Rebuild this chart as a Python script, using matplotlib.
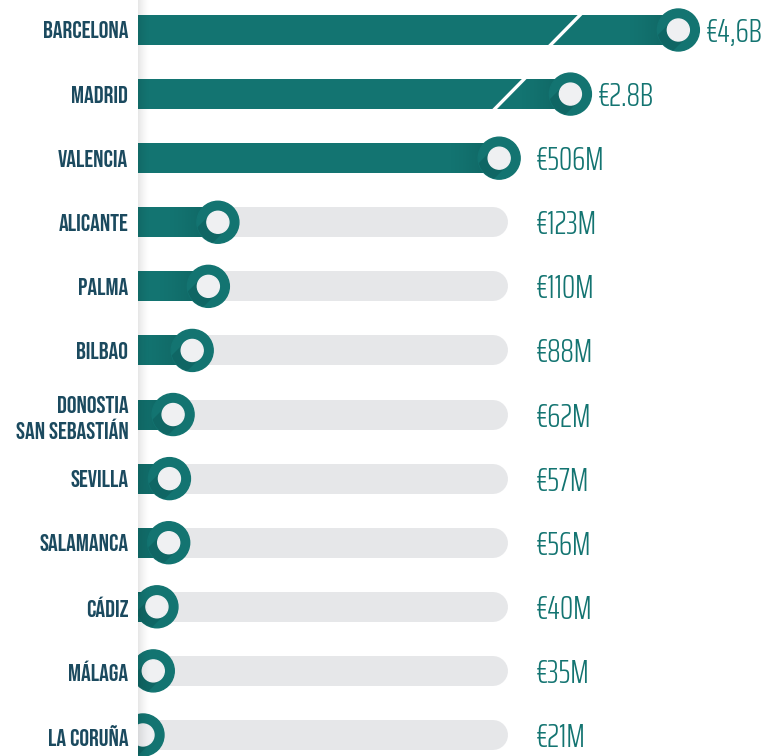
import numpy as np
import matplotlib.pyplot as plt
from matplotlib.patches import Circle, Polygon
from matplotlib.transforms import ScaledTranslation
from matplotlib.colors import to_rgb

# DATA
cities = ["BARCELONA", "MADRID", "VALENCIA", "ALICANTE", "PALMA", "BILBAO",
          "DONOSTIA\nSAN SEBASTIÁN", "SEVILLA", "SALAMANCA", "CÁDIZ", "MÁLAGA", "LA CORUÑA"]
values = [4600, 2800, 506, 123, 110, 88, 62, 57, 56, 40, 35, 21]  # millions of euros
value_labels = ["€4,6B", "€2.8B", "€506M", "€123M", "€110M", "€88M",
                "€62M", "€57M", "€56M", "€40M", "€35M", "€21M"]

# broken axis: everything above 506M is squeezed
BREAK_IN = [0, 506, 2800, 4600]
BREAK_OUT = [0, 506, 603, 750]
TRACK_END = 518
X_MIN, X_MAX = 14.2, 868
PX = 0.734  # pixels per axis unit

TEAL = "#137471"
DARK_TEAL = "#0a4e4c"
TRACK = "#e6e7e9"
INNER = "#eff0f2"
NAVY = "#1b4a5f"

LABEL_FONT = ["Bebas Neue", "DejaVu Sans"]
VALUE_FONT = ["Saira ExtraCondensed", "DejaVu Sans"]


def axis_pos(v):
    return float(np.interp(v, BREAK_IN, BREAK_OUT))


fig = plt.figure(figsize=(7.65, 7.56), dpi=100)
ax = fig.add_axes([138 / 765, 0, 1 - 138 / 765, 1])

rows = np.arange(len(cities))
pos = [axis_pos(v) for v in values]
bar_h = 30 / 64.09

# grey tracks with round right end
for i in rows:
    ax.plot([0, TRACK_END - 15 / PX], [i, i], color=TRACK, lw=21.6,
            solid_capstyle="round", zorder=1)

# teal bars
ax.barh(rows, pos, left=0, height=bar_h, color=TEAL, zorder=2)

# darker gradient near the knob
dark = to_rgb(DARK_TEAL)
grad = np.zeros((1, 64, 4))
grad[..., :3] = dark
grad[..., 3] = np.linspace(0, 0.55, 64) ** 1.3
for i, p in zip(rows, pos):
    ax.imshow(grad, extent=[p - 50 / PX, p, i + bar_h / 2, i - bar_h / 2],
              aspect="auto", interpolation="bilinear", zorder=3)

# break marks on the squeezed bars
slash_gap_px = {0: 113, 1: 61}
for i, gap in slash_gap_px.items():
    c = pos[i] - gap / PX
    ax.plot([c - 17 / PX, c + 17 / PX], [i + 0.27, i - 0.27], color="white",
            lw=2.4, zorder=4, solid_capstyle="butt")

# knobs
r_out, r_in = 0.21, 0.11
d = np.array([-1, -1]) / np.sqrt(2)
perp = np.array([-1, 1]) / np.sqrt(2)
for i, p in zip(rows, pos):
    tr = fig.dpi_scale_trans + ScaledTranslation(p, i, ax.transData)
    outer = Circle((0, 0), r_out, transform=tr, color=TEAL, zorder=5)
    ax.add_patch(outer)
    shadow_pts = [r_in * perp, r_in * perp + 0.4 * d, -r_in * perp + 0.4 * d, -r_in * perp]
    sh = Polygon(shadow_pts, closed=True, transform=tr, color=DARK_TEAL,
                 alpha=0.35, zorder=5.5, lw=0)
    ax.add_patch(sh)
    sh.set_clip_path(outer)
    sh.set_clip_box(ax.bbox)
    ax.add_patch(Circle((0, 0), r_in, transform=tr, color=INNER, zorder=6))

# soft shadow along the left edge
edge = np.zeros((1, 64, 4))
edge[..., 3] = np.linspace(0.22, 0, 64) ** 1.5
ax.imshow(edge, extent=[X_MIN, X_MIN + 11 / PX, 11.5, -0.6], aspect="auto",
          interpolation="bilinear", zorder=7)

# value labels
for i, p, lbl in zip(rows, pos, value_labels):
    ax.annotate(lbl, (max(p, TRACK_END), i), xytext=(20, 0),
                textcoords="offset points", ha="left", va="center_baseline",
                color=TEAL, fontsize=24, fontweight=300, family=VALUE_FONT)

ax.set_yticks(rows, cities)
for t in ax.get_yticklabels():
    t.set_family(LABEL_FONT)
    t.set_fontsize(17.5)
    t.set_color(NAVY)
    t.set_linespacing(1.3)
ax.tick_params(axis="y", length=0, pad=7)
ax.set_xticks([])
for s in ax.spines.values():
    s.set_visible(False)

ax.set_xlim(X_MIN, X_MAX)
ax.set_ylim(11.328, -0.468)

fig.savefig("out.png", dpi=100)
